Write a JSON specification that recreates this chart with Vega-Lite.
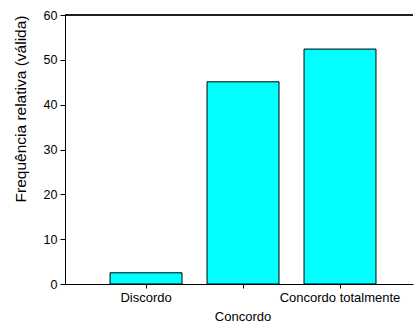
{
  "$schema": "https://vega.github.io/schema/vega-lite/v6.json",
  "autosize": {"type": "none"},
  "width": 348,
  "height": 269,
  "padding": {"left": 65, "top": 15, "right": 1, "bottom": 40},
  "background": "white",
  "config": {
    "view": {"stroke": null},
    "font": "Liberation Sans",
    "axis": {"grid": false, "domainColor": "black", "tickColor": "black", "labelColor": "black", "titleColor": "black", "labelFont": "Liberation Sans", "titleFont": "Liberation Sans", "titleFontWeight": "normal"}
  },
  "data": {
    "values": [
      {"categoria": "Discordo", "freq": 2.5},
      {"categoria": "Concordo", "freq": 45.1},
      {"categoria": "Concordo totalmente", "freq": 52.4}
    ]
  },
  "layer": [
    {
      "mark": {"type": "bar", "fill": "#00FFFF", "stroke": "black", "strokeWidth": 1},
      "encoding": {
        "x": {
          "field": "categoria",
          "type": "nominal",
          "sort": ["Discordo", "Concordo", "Concordo totalmente"],
          "scale": {"paddingInner": 0.258, "paddingOuter": 0.423, "align": 0.549},
          "axis": {
            "title": null,
            "labelAngle": 0,
            "labelFontSize": 13,
            "labelOverlap": false,
            "tickSize": 4,
            "labelBaseline": "top",
            "labelPadding": {"condition": {"test": "datum.value === 'Concordo'", "value": 22}, "value": 3}
          }
        },
        "y": {
          "field": "freq",
          "type": "quantitative",
          "scale": {"domain": [0, 60], "nice": false},
          "axis": {
            "title": "Frequência relativa (válida)",
            "titleFontSize": 15.5,
            "titleAnchor": "end",
            "titlePadding": 15,
            "values": [0, 10, 20, 30, 40, 50, 60],
            "labelFontSize": 12.5,
            "tickSize": 5,
            "labelPadding": 3
          }
        }
      }
    },
    {
      "mark": {"type": "rule", "color": "black", "strokeWidth": 1},
      "encoding": {"y": {"datum": 60}}
    }
  ]
}
